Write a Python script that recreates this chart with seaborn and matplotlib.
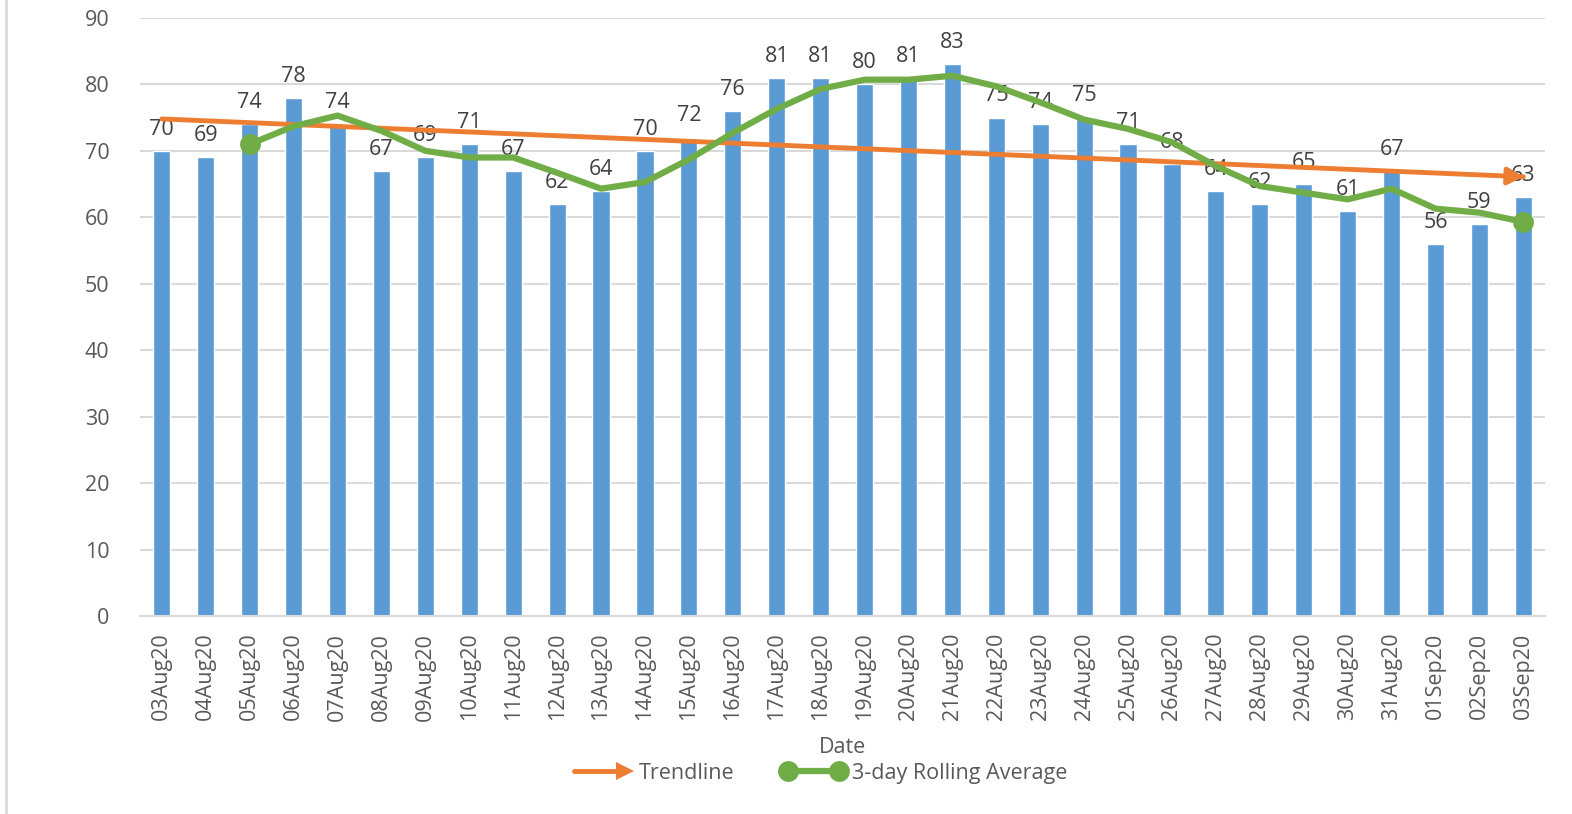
import numpy as np
import pandas as pd
import seaborn as sns
import matplotlib.pyplot as plt
from matplotlib.lines import Line2D
from matplotlib.legend_handler import HandlerLine2D

# --- data ----------------------------------------------------------
dates = ['03Aug20', '04Aug20', '05Aug20', '06Aug20', '07Aug20', '08Aug20',
         '09Aug20', '10Aug20', '11Aug20', '12Aug20', '13Aug20', '14Aug20',
         '15Aug20', '16Aug20', '17Aug20', '18Aug20', '19Aug20', '20Aug20',
         '21Aug20', '22Aug20', '23Aug20', '24Aug20', '25Aug20', '26Aug20',
         '27Aug20', '28Aug20', '29Aug20', '30Aug20', '31Aug20', '01Sep20',
         '02Sep20', '03Sep20']
counts = [70, 69, 74, 78, 74, 67, 69, 71, 67, 62, 64, 70, 72, 76, 81, 81,
          80, 81, 83, 75, 74, 75, 71, 68, 64, 62, 65, 61, 67, 56, 59, 63]
# 3-day rolling average, starts on the third day
rolling_dates = dates[2:]
rolling_avg = [71.0, 73.7, 75.3, 73.0, 70.0, 69.0, 69.0, 66.7, 64.3, 65.3,
               68.7, 72.7, 76.3, 79.3, 80.7, 80.7, 81.3, 79.7, 77.3, 74.7,
               73.3, 71.3, 67.7, 64.7, 63.7, 62.7, 64.3, 61.3, 60.7, 59.3]
# linear trendline, first and last day
trend_dates = [dates[0], dates[-1]]
trend_vals = [74.8, 66.1]

BLUE = '#5B9BD5'
ORANGE = '#ED7D31'
GREEN = '#70AD47'
GREY = '#595959'
GRID = '#D9D9D9'
FS = 15.5


class ArrowHandler(HandlerLine2D):
    # legend line with the marker only at the right end (arrow head)
    def create_artists(self, *args, **kwargs):
        arts = super().create_artists(*args, **kwargs)
        for a in arts:
            if a.get_marker() not in ('', 'None', None):
                a.set_markevery([len(a.get_xdata()) - 1])
        return arts


sns.set_style('white')
plt.rcParams['font.family'] = ['Open Sans', 'DejaVu Sans']

fig = plt.figure(figsize=(15.72, 8.14), dpi=100)
ax = fig.add_axes([0.089, 0.2432, 0.894, 0.7348])

df = pd.DataFrame({'Date': dates, 'Count': counts})
sns.barplot(data=df, x='Date', y='Count', color=BLUE, saturation=1,
            width=0.39, ax=ax, zorder=2)
ax.bar_label(ax.containers[0], padding=8, fontsize=FS, color='#404040',
             zorder=3)

pos = {d: i for i, d in enumerate(dates)}

# trendline with arrow head
sns.lineplot(x=[pos[d] for d in trend_dates], y=trend_vals, color=ORANGE,
             lw=3.5, ax=ax, zorder=4)
ax.annotate('', xy=(pos[trend_dates[1]], trend_vals[1]),
            xytext=(pos[trend_dates[1]] - 0.4, trend_vals[1] + 0.11),
            arrowprops=dict(arrowstyle='-|>,head_length=0.9,head_width=0.5',
                            color=ORANGE, lw=3.5, shrinkA=0, shrinkB=0),
            zorder=4)

rx = [pos[d] for d in rolling_dates]
sns.lineplot(x=rx, y=rolling_avg, color=GREEN, lw=4.5, marker='o',
             markersize=15, markevery=[0, len(rx) - 1], markeredgewidth=0,
             ax=ax, zorder=5)

ax.set_xlim(-0.5, len(dates) - 0.5)
ax.set_ylim(0, 90)
ax.set_yticks(range(0, 91, 10))
ax.grid(axis='y', color=GRID, lw=1.5, zorder=0)
ax.set_axisbelow(True)

ax.set_xticks(range(len(dates)))
ax.set_xticklabels(dates, rotation=90)
ax.set_xticks(np.arange(-0.5, len(dates)), minor=True)
ax.tick_params(axis='x', which='major', length=0, pad=12, labelsize=FS,
               labelcolor=GREY)
ax.tick_params(axis='x', which='minor', length=7, width=1.5, color=GRID)
ax.tick_params(axis='y', length=0, pad=22, labelsize=FS, labelcolor=GREY)

for s in ['top', 'right', 'left']:
    ax.spines[s].set_visible(False)
ax.spines['bottom'].set_color(GRID)
ax.spines['bottom'].set_linewidth(1.5)

ax.set_ylabel('')
ax.set_xlabel('Date', fontsize=FS, color=GREY, labelpad=12)

trend_handle = Line2D([0, 1], [0, 0], color=ORANGE, lw=3.5, marker='>',
                      markersize=13, markeredgewidth=0)
roll_handle = Line2D([0, 1], [0, 0], color=GREEN, lw=4.5, marker='o',
                     markersize=15, markeredgewidth=0)
fig.legend([trend_handle, roll_handle], ['Trendline', '3-day Rolling Average'],
           loc='center', bbox_to_anchor=(0.52, 0.05), ncol=2, frameon=False,
           fontsize=FS, labelcolor=GREY, numpoints=2, handlelength=3.0,
           handletextpad=0.3, columnspacing=2.2,
           handler_map={trend_handle: ArrowHandler()})

# chart border on the left
fig.add_artist(Line2D([0.004, 0.004], [0, 1], color=GRID, lw=2,
                      transform=fig.transFigure))

fig.savefig('out.png', dpi=100)
